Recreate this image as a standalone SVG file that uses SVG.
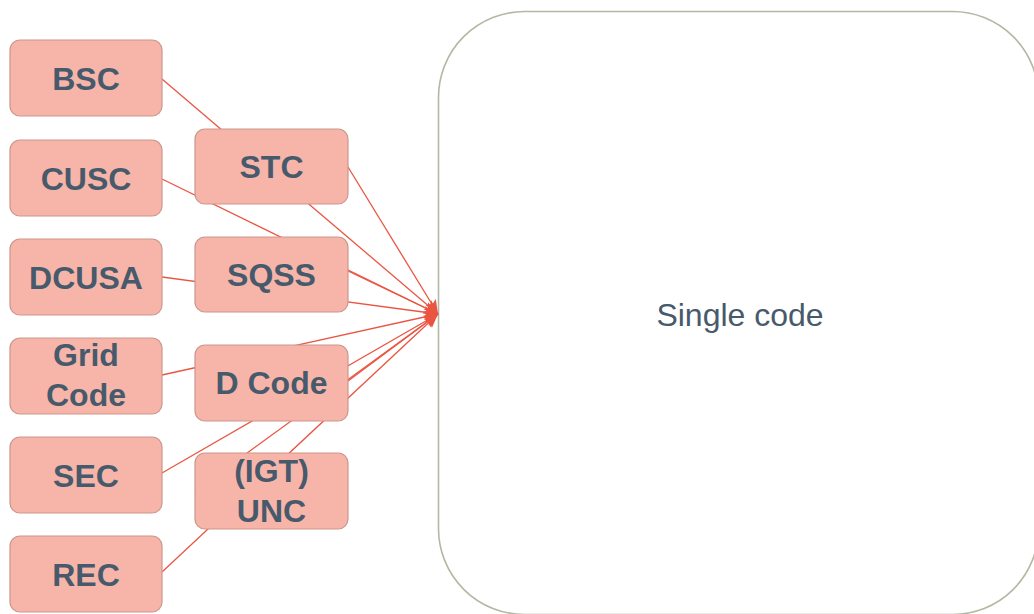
<svg xmlns="http://www.w3.org/2000/svg" width="1034" height="614" viewBox="0 0 1034 614">
  <style>
    .node rect { fill: #F7B5A9; stroke: #CC968D; stroke-width: 1.2; }
    .node text { font-family: "Liberation Sans", Arial, sans-serif; font-size: 32px; font-weight: bold; fill: #475A6B; text-anchor: middle; }
    .edge { stroke: #EA5542; stroke-width: 1.3; fill: none; marker-end: url(#arrow); }
    .frame rect { fill: #FFFFFF; stroke: #B3B8A2; stroke-width: 1.6; }
    .frame text { font-family: "Liberation Sans", Arial, sans-serif; font-size: 32px; fill: #475A6B; text-anchor: middle; }
  </style>
  <defs>
    <marker id="arrow" markerUnits="userSpaceOnUse" markerWidth="16" markerHeight="14" refX="14" refY="7" orient="auto">
      <path d="M0,1 L14,7 L0,13 L3,7 z" fill="#EA5542"/>
    </marker>
  </defs>

  <rect width="1034" height="614" fill="#FFFFFF"/>

  <!-- target container -->
  <g id="single-code" class="frame">
    <rect x="438.5" y="11.5" width="600" height="603" rx="86" ry="86"/>
    <text x="740" y="326">Single code</text>
  </g>

  <!-- connectors, drawn beneath the nodes -->
  <g id="connectors">
    <line class="edge" x1="162" y1="79" x2="438" y2="314"/>
    <line class="edge" x1="162" y1="179" x2="438" y2="314"/>
    <line class="edge" x1="162" y1="277" x2="438" y2="314"/>
    <line class="edge" x1="162" y1="375" x2="438" y2="314"/>
    <line class="edge" x1="162" y1="473" x2="438" y2="314"/>
    <line class="edge" x1="162" y1="572" x2="438" y2="314"/>
    <line class="edge" x1="348" y1="167" x2="438" y2="314"/>
    <line class="edge" x1="348" y1="271" x2="438" y2="314"/>
    <line class="edge" x1="348" y1="381" x2="438" y2="314"/>
    <line class="edge" x1="195" y1="491" x2="438" y2="314" stroke-width="2"/>
  </g>

  <!-- source codes -->
  <g id="bsc" class="node">
    <rect x="10" y="40" width="152" height="76" rx="10"/>
    <text x="86" y="90">BSC</text>
  </g>
  <g id="cusc" class="node">
    <rect x="10" y="140" width="152" height="76" rx="10"/>
    <text x="86" y="190">CUSC</text>
  </g>
  <g id="dcusa" class="node">
    <rect x="10" y="239" width="152" height="76" rx="10"/>
    <text x="86" y="289">DCUSA</text>
  </g>
  <g id="grid-code" class="node">
    <rect x="10" y="338" width="152" height="76" rx="10"/>
    <text x="86" y="366">Grid</text>
    <text x="86" y="406">Code</text>
  </g>
  <g id="sec" class="node">
    <rect x="10" y="437" width="152" height="76" rx="10"/>
    <text x="86" y="487">SEC</text>
  </g>
  <g id="rec" class="node">
    <rect x="10" y="536" width="152" height="76" rx="10"/>
    <text x="86" y="586">REC</text>
  </g>

  <g id="stc" class="node">
    <rect x="195" y="129" width="153" height="75" rx="10"/>
    <text x="271.5" y="178">STC</text>
  </g>
  <g id="sqss" class="node">
    <rect x="195" y="237" width="153" height="75" rx="10"/>
    <text x="271.5" y="286">SQSS</text>
  </g>
  <g id="d-code" class="node">
    <rect x="195" y="345" width="153" height="76" rx="10"/>
    <text x="271.5" y="394">D Code</text>
  </g>
  <g id="igt-unc" class="node">
    <rect x="195" y="453" width="153" height="76" rx="10"/>
    <text x="271.5" y="482">(IGT)</text>
    <text x="271.5" y="522">UNC</text>
  </g>
</svg>
